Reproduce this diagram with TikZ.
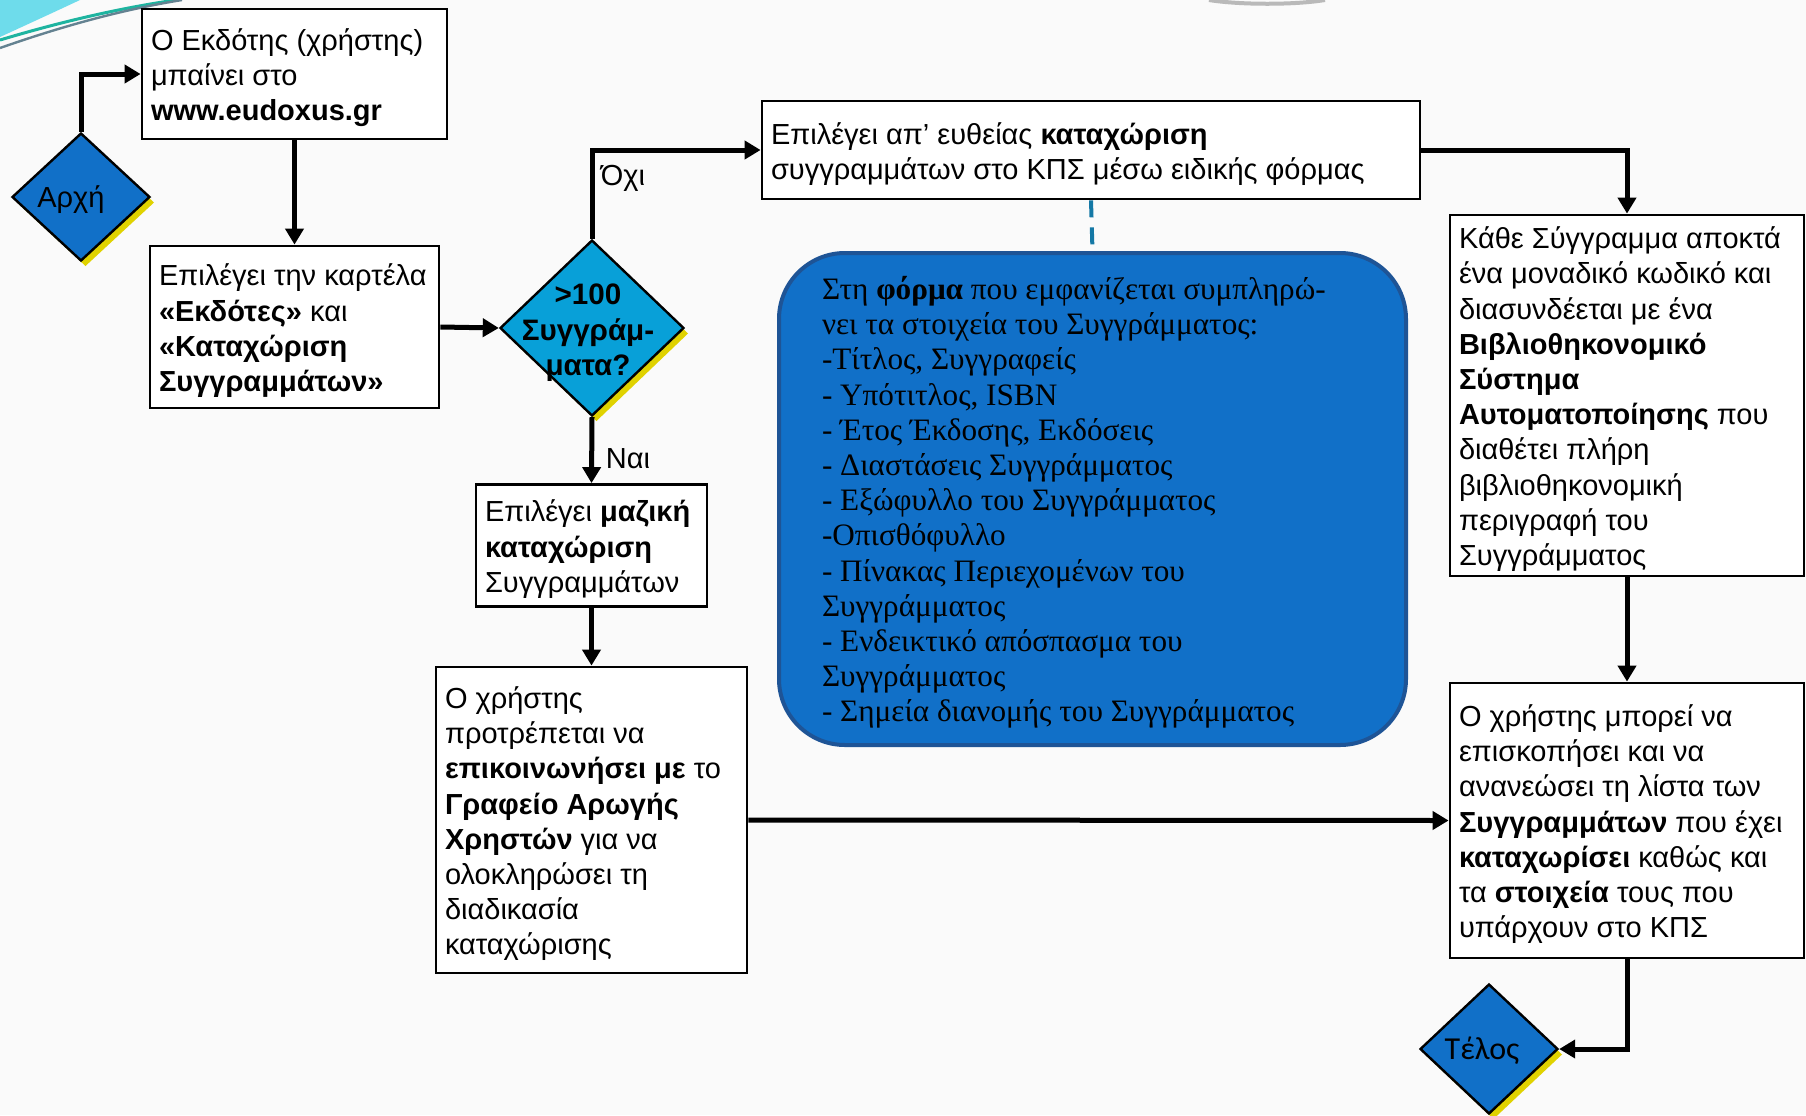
\documentclass[tikz,border=0pt]{standalone}
\usepackage{fontspec}
\setmainfont{Liberation Sans}
\newfontfamily\formfont{Liberation Serif}
\newfontfamily\endfont{Carlito}
\usetikzlibrary{shapes.geometric,arrows.meta,shadows}
\definecolor{bgc}{RGB}{250,250,250}
\definecolor{startblue}{RGB}{17,112,200}
\definecolor{decblue}{RGB}{8,160,216}
\definecolor{formedge}{RGB}{30,84,150}
\definecolor{shadowyellow}{RGB}{224,210,0}
\definecolor{dashblue}{RGB}{20,120,165}
\definecolor{swcyan}{RGB}{110,220,235}
\definecolor{swteal}{RGB}{30,180,160}
\definecolor{swgrey}{RGB}{100,130,145}
\newcommand{\boxlines}[2]{\raisebox{-2.3pt}[\height][\depth]{\makebox[#1][l]{\begin{tabular}{@{}l@{}}#2\end{tabular}}}}
\begin{document}
\begin{tikzpicture}[x=0.5pt,y=-0.5pt,
 txt/.style={font=\fontsize{14.5pt}{17.6pt}\selectfont},
 box/.style={draw=black, line width=1.4pt, fill=white, rectangle, inner xsep=4.5pt, inner ysep=0pt, txt},
 term/.style={diamond, draw=black, line width=1.2pt, fill=startblue, inner sep=0pt, minimum width=69pt, minimum height=64pt,
   drop shadow={shadow xshift=2.25pt, shadow yshift=-2.75pt, fill=shadowyellow, opacity=1}},
 flow/.style={line width=2.5pt, -{Triangle[length=8pt,width=9pt]}},
 lbl/.style={txt, inner sep=0pt}
]
\fill[bgc] (0,0) rectangle (1806,1115);
\useasboundingbox (0,0) rectangle (1806,1115);

% decorations
\fill[swcyan] (0,0) -- (80,0) .. controls (50,14) .. (0,37) -- cycle;
\draw[swteal, line width=1.5pt] (0,40) .. controls (60,22) and (120,8) .. (176,0);
\draw[swgrey, line width=1.2pt] (0,48) .. controls (60,27) and (120,10) .. (182,0);
\draw[gray!55, line width=2pt] (1209,0) .. controls (1240,5) and (1295,5) .. (1325,0);

% nodes
\node[box, minimum width=152.5pt, minimum height=65pt] (b1) at (294.5,74)
 {\boxlines{143.5pt}{Ο Εκδότης (χρήστης)\\μπαίνει στο\\\textbf{www.eudoxus.gr}}};
\node[box, minimum width=144.5pt, minimum height=81pt] (b2) at (294.5,327)
 {\boxlines{135.5pt}{Επιλέγει την καρτέλα\\\textbf{«Εκδότες»} και\\\textbf{«Καταχώριση}\\\textbf{Συγγραμμάτων»}}};
\node[box, minimum width=329pt, minimum height=49pt] (b3) at (1091,150)
 {\boxlines{320pt}{Επιλέγει απ’ ευθείας \textbf{καταχώριση}\\συγγραμμάτων στο ΚΠΣ μέσω ειδικής φόρμας}};
\node[draw=formedge, line width=2pt, fill=startblue, rounded corners=33pt, minimum width=313.5pt, minimum height=246pt,
  inner xsep=21.5pt, inner ysep=0pt,
  font=\formfont\fontsize{15.6pt}{17.6pt}\selectfont] (form) at (1092.5,499)
 {\boxlines{270.5pt}{Στη \textbf{φόρμα} που εμφανίζεται συμπληρώ-\\νει τα στοιχεία του Συγγράμματος:\\-Τίτλος, Συγγραφείς\\- Υπότιτλος, ISBN\\- Έτος Έκδοσης, Εκδόσεις\\- Διαστάσεις Συγγράμματος\\- Εξώφυλλο του Συγγράμματος\\-Οπισθόφυλλο\\- Πίνακας Περιεχομένων του\\Συγγράμματος\\- Ενδεικτικό απόσπασμα του\\Συγγράμματος\\- Σημεία διανομής του Συγγράμματος}};
\node[box, minimum width=177pt, minimum height=180.5pt] (b4) at (1627,395.5)
 {\boxlines{168pt}{Κάθε Σύγγραμμα αποκτά\\ένα μοναδικό κωδικό και\\διασυνδέεται με ένα\\\textbf{Βιβλιοθηκονομικό}\\\textbf{Σύστημα}\\\textbf{Αυτοματοποίησης} που\\διαθέτει πλήρη\\βιβλιοθηκονομική\\περιγραφή του\\Συγγράμματος}};
\node[box, minimum width=177pt, minimum height=137.5pt] (b5) at (1627,820.5)
 {\boxlines{168pt}{Ο χρήστης μπορεί να\\επισκοπήσει και να\\ανανεώσει τη λίστα των\\\textbf{Συγγραμμάτων} που έχει\\\textbf{καταχωρίσει} καθώς και\\τα \textbf{στοιχεία} τους που\\υπάρχουν στο ΚΠΣ}};
\node[box, minimum width=115.5pt, minimum height=61pt] (b6) at (591.5,545.5)
 {\boxlines{106.5pt}{Επιλέγει \textbf{μαζική}\\\textbf{καταχώριση}\\Συγγραμμάτων}};
\node[box, minimum width=155.5pt, minimum height=153pt] (b7) at (591.5,820)
 {\boxlines{146.5pt}{Ο χρήστης\\προτρέπεται να\\\textbf{επικοινωνήσει με} το\\\textbf{Γραφείο Αρωγής}\\\textbf{Χρηστών} για να\\ολοκληρώσει τη\\διαδικασία\\καταχώρισης}};

\node[term] (start) at (81,197) {};
\node[lbl] (starttxt) at (71,200) {Αρχή};
\node[term, fill=decblue, minimum width=92pt, minimum height=88pt] (dec) at (592,328) {};
\node[lbl, align=center, font=\bfseries\fontsize{14.8pt}{17.8pt}\selectfont] (dectxt) at (588,333) {>100\\Συγγράμ-\\ματα?};
\node[term, minimum height=65pt] (end) at (1489,1049) {};
\node[lbl, font=\endfont\fontsize{16pt}{18pt}\selectfont] (endtxt) at (1482,1051) {Τέλος};

\node[lbl] (no) at (623,178) {Όχι};
\node[lbl] (yes) at (628,459) {Ναι};

% connectors
\draw[flow] (start.north) |- (b1.west);
\draw[flow] (b1.south) -- (b2.north);
\draw[flow] (b2.east) -- (dec.west);
\draw[flow] (dec.north) |- (b3.west);
\draw[flow] (dec.south) -- (b6.north);
\draw[flow] (b6.south) -- (b7.north);
\draw[flow] (b7.east) -- (b5.west);
\draw[flow] (b3.east) -| (b4.north);
\draw[flow] (b4.south) -- (b5.north);
\draw[flow] (b5.south) |- (end.east);
\draw[dashblue, line width=2pt, dash pattern=on 8.5pt off 5pt] (b3.south) -- (form.north);
\end{tikzpicture}
\end{document}
